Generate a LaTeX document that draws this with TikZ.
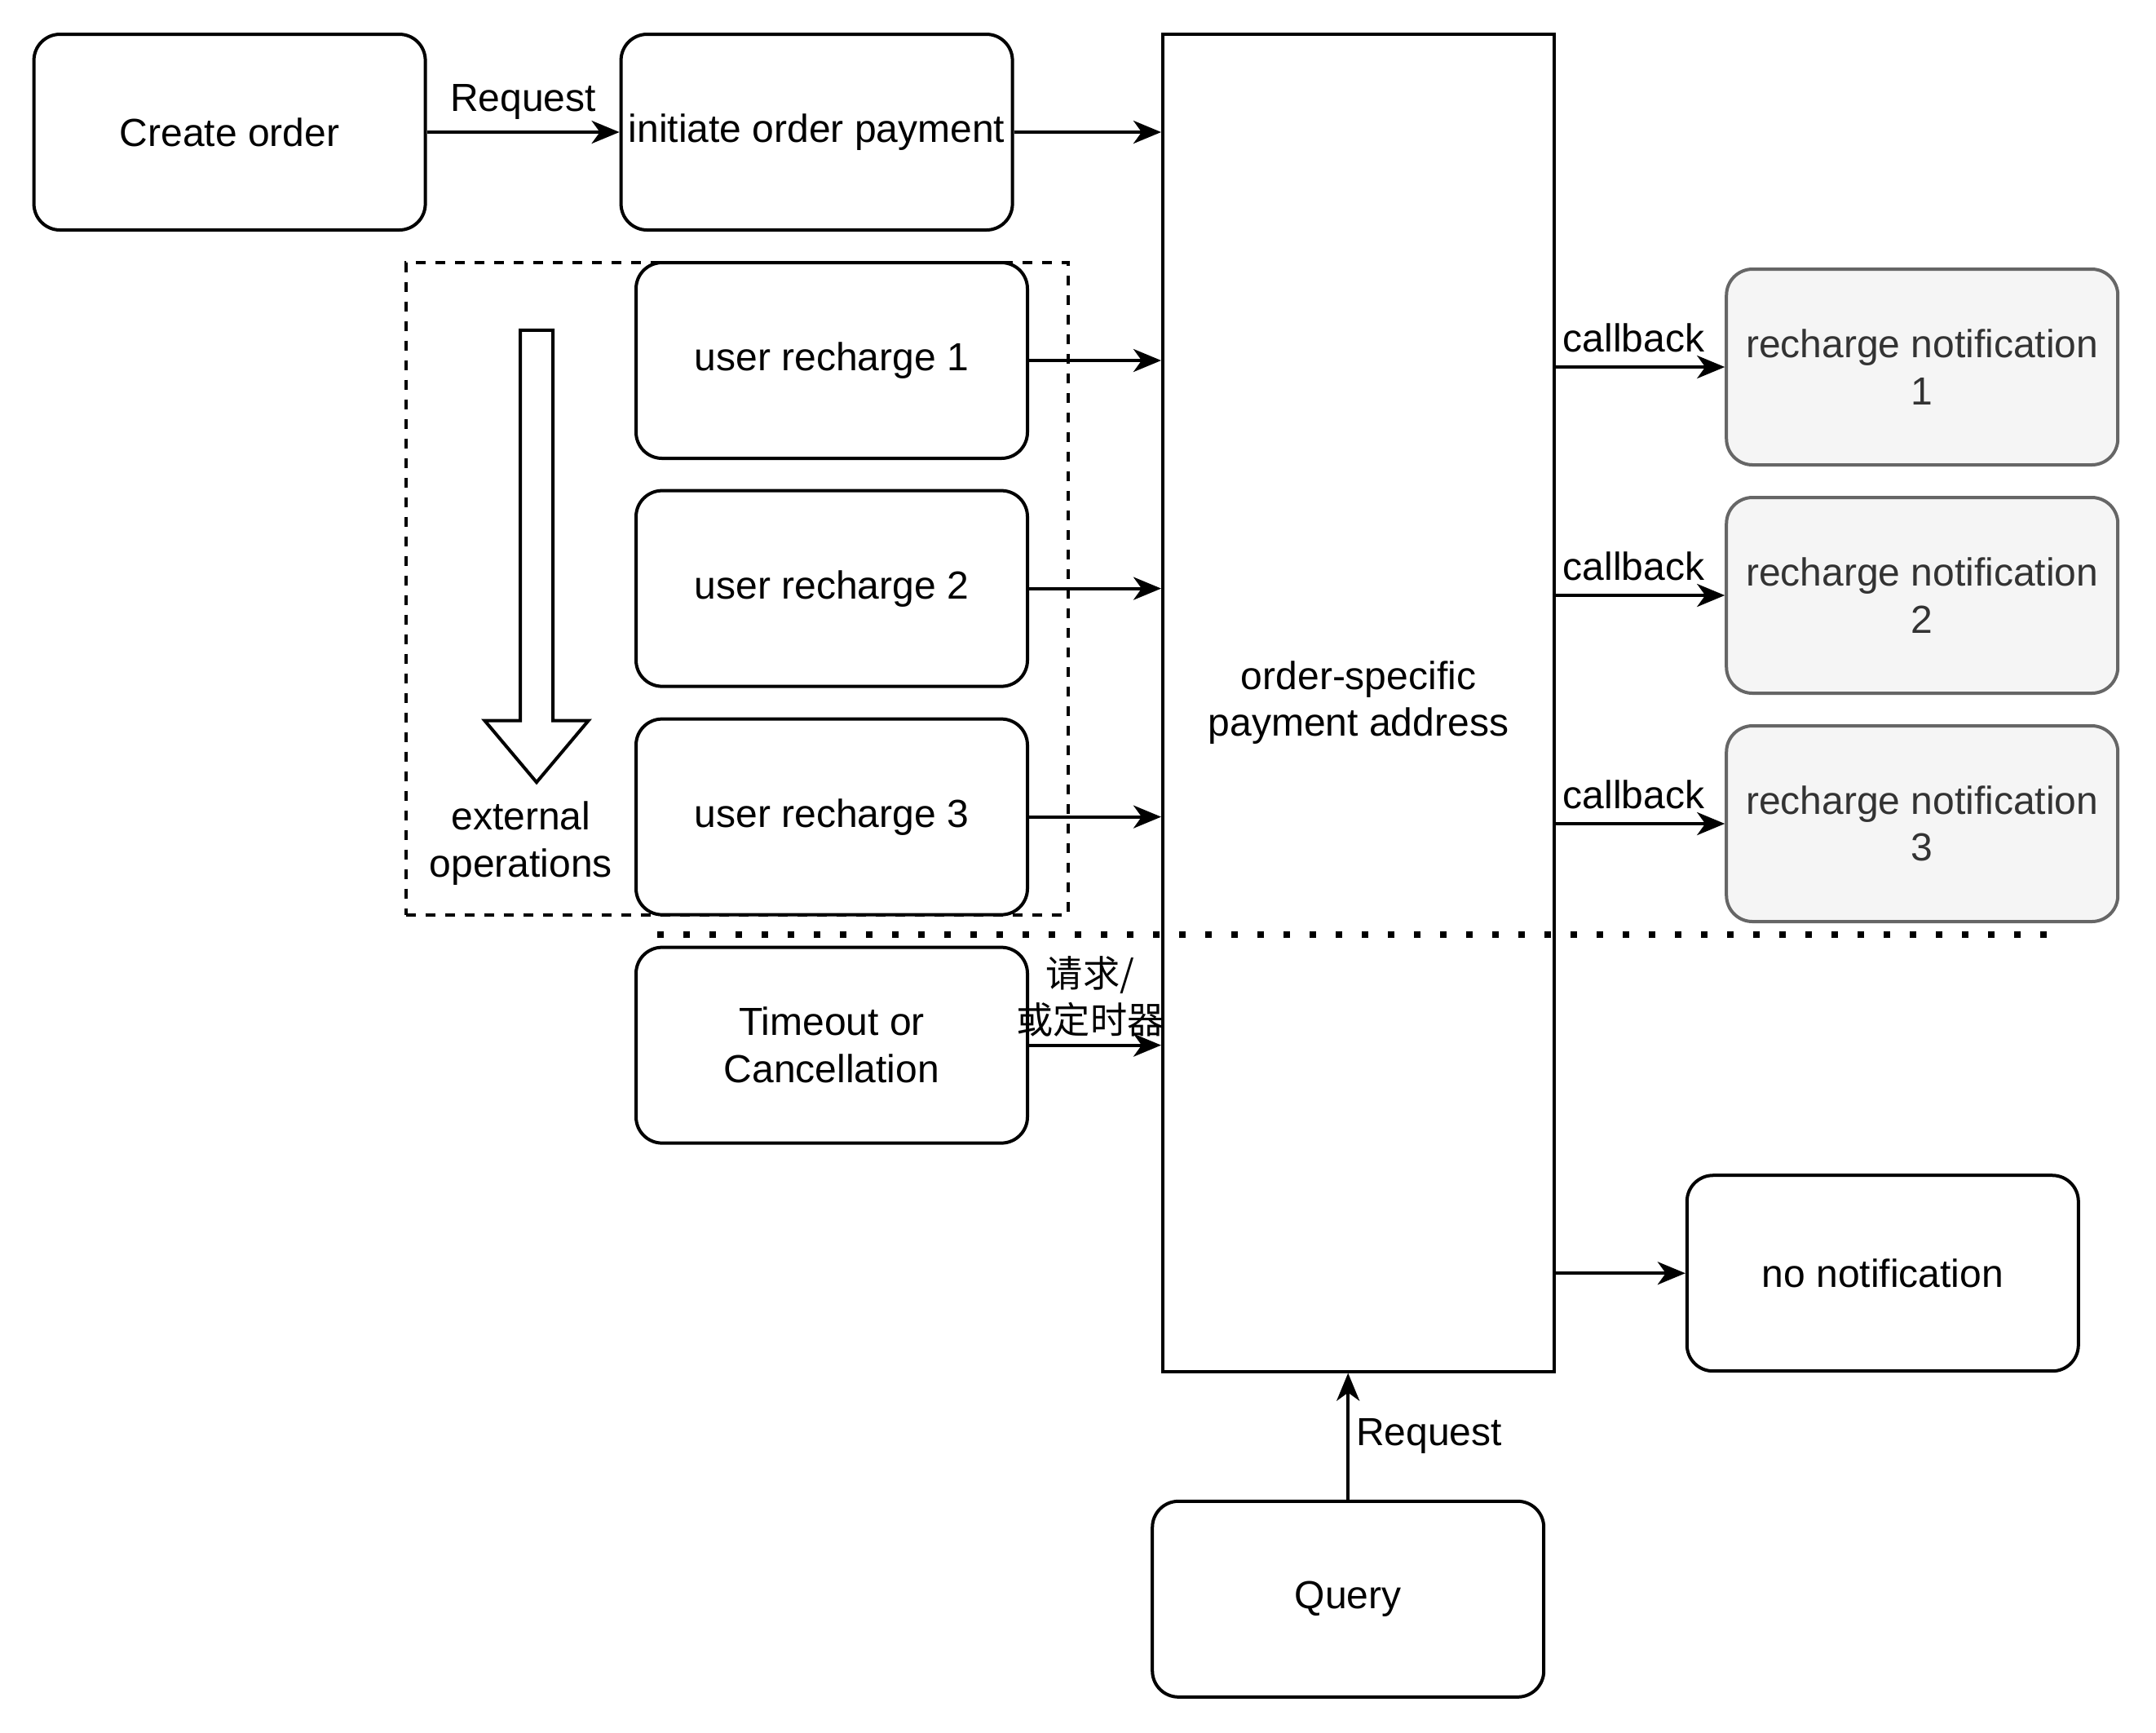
\documentclass[tikz,border=0pt]{standalone}
\usepackage{fontspec}
\setmainfont{Liberation Sans}
\newfontfamily\cjk{Noto Sans CJK SC}
\usepackage{tikz}
\usetikzlibrary{arrows.meta,positioning}
\usepackage{xcolor}
\definecolor{nfgray}{RGB}{245,245,245}
\definecolor{nfborder}{RGB}{102,102,102}
\definecolor{nftext}{RGB}{51,51,51}
\tikzstyle{process} = [rectangle, rounded corners=8pt, minimum width=120pt, minimum height=60pt, text centered, align=center, draw=black, line width=1pt, inner sep=1pt, font=\fontsize{12}{14.4}\selectfont]
\tikzstyle{notice} = [process, fill=nfgray, draw=nfborder, text=nftext]
\tikzstyle{group} = [rectangle, draw=black, line width=1pt, dash pattern=on 3pt off 3pt, minimum width=203pt, minimum height=200pt]
\tikzstyle{arrow} = [line width=1pt, -{Stealth[length=8.5pt,width=7pt,inset=2.5pt]}]
\tikzstyle{lbl} = [font=\fontsize{12}{14.4}\selectfont, inner sep=1pt, align=center]

\begin{document}
\begin{tikzpicture}[x=1pt, y=-1pt]
\useasboundingbox (0,0) rectangle (661,531);
% Order nodes
\node (create) [process] at (70.4,40.5) {Create order};
\node (initiate) [process] at (250.4,40.5) {initiate order payment};
\node (address) [process, rounded corners=0pt, minimum height=410pt] at (416.5,215.4) {order-specific\\payment address};

% External operations
\node (extgroup) [group] at (225.9,180.4) {};
\node (urec1) [process] at (255,110.5) {user recharge 1};
\node (urec2) [process] at (255,180.4) {user recharge 2};
\node (urec3) [process] at (255,250.4) {user recharge 3};
\draw[line width=1pt, fill=white] (159.5,101.2) -- (169.5,101.2) -- (169.5,220.9) -- (180.4,220.9) -- (164.5,239.8) -- (148.6,220.9) -- (159.5,220.9) -- cycle;
\node (extlabel) [lbl] at (159.7,258.5) {external\\operations};
\node (timeout) [process] at (255,320.4) {Timeout or\\Cancellation};

% Separator
\draw[line width=2pt, dash pattern=on 2pt off 6pt] (201.5,286.6) -- (628,286.6);

% Notifications
\node (notif1) [notice] at (589.3,112.5) {recharge notification\\1};
\node (notif2) [notice] at (589.3,182.5) {recharge notification\\2};
\node (notif3) [notice] at (589.3,252.5) {recharge notification\\3};
\node (nonotif) [process] at (577.2,390.3) {no notification};
\node (query) [process] at (413.3,490.2) {Query};

% Arrows
\draw[arrow] (create) -- node[lbl, above=2.5pt] {Request} (initiate);
\draw[arrow] (initiate) -- (initiate -| address.west);
\foreach \i in {1,2,3} {
  \draw[arrow] (urec\i) -- (urec\i -| address.west);
  \draw[arrow] (address.east |- notif\i) -- node[lbl, above=3pt, xshift=-2pt] {callback} (notif\i);
}
\draw[arrow] (timeout) -- node[lbl, above=1pt, xshift=-1.5pt, font=\cjk\fontsize{11.3}{14.4}\selectfont] {请求/\\或定时器} (timeout -| address.west);
\draw[arrow] (address.east |- nonotif) -- (nonotif);
\draw[arrow] (query) -- node[lbl, right=1pt] {Request} (query |- address.south);
\end{tikzpicture}
\end{document}
